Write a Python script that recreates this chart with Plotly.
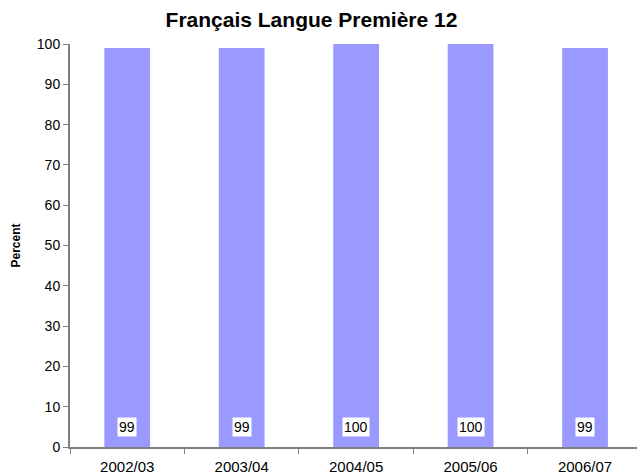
import plotly.graph_objects as go

years = ["2002/03", "2003/04", "2004/05", "2005/06", "2006/07"]
percent = [99, 99, 100, 100, 99]
y_ticks = list(range(0, 101, 10))

fig = go.Figure()
fig.add_trace(go.Bar(
    x=years, y=percent,
    marker=dict(color="#9999FF", line=dict(width=0)),
    width=0.4,
    hoverinfo="skip",
))

# value labels sitting near the base of each bar, in white boxes
for yr, v in zip(years, percent):
    fig.add_annotation(
        x=yr, y=5, xref="x", yref="y", text=str(v), showarrow=False,
        bgcolor="white", borderpad=1,
        font=dict(family="Liberation Sans, Arial", size=14, color="black"),
    )

axis_col = "#808080"
fig.update_layout(
    width=637, height=476,
    margin=dict(l=70, r=0, t=44, b=29),
    paper_bgcolor="white", plot_bgcolor="white",
    showlegend=False,
    font=dict(family="Liberation Sans, Arial", color="black"),
    title=dict(
        text="<b>Français Langue Première 12</b>",
        x=0.489, xref="container", xanchor="center",
        y=0.958, yref="container", yanchor="middle",
        font=dict(size=21, color="black"),
    ),
    xaxis=dict(
        type="category", range=[-0.5, 4.454],
        showline=True, linecolor=axis_col, linewidth=2,
        ticks="outside", tickson="boundaries", ticklen=5,
        tickcolor=axis_col, tickwidth=1,
        showgrid=False, zeroline=False,
        tickfont=dict(size=15), ticklabelstandoff=5,
    ),
    yaxis=dict(
        range=[0, 100], tickvals=y_ticks,
        showline=True, linecolor=axis_col, linewidth=2,
        ticks="outside", ticklen=5, tickcolor=axis_col, tickwidth=1,
        showgrid=False, zeroline=False,
        tickfont=dict(size=14),
        title=dict(text="<b>Percent</b>", font=dict(size=12), standoff=14),
    ),
)

fig.write_html("out.html")
